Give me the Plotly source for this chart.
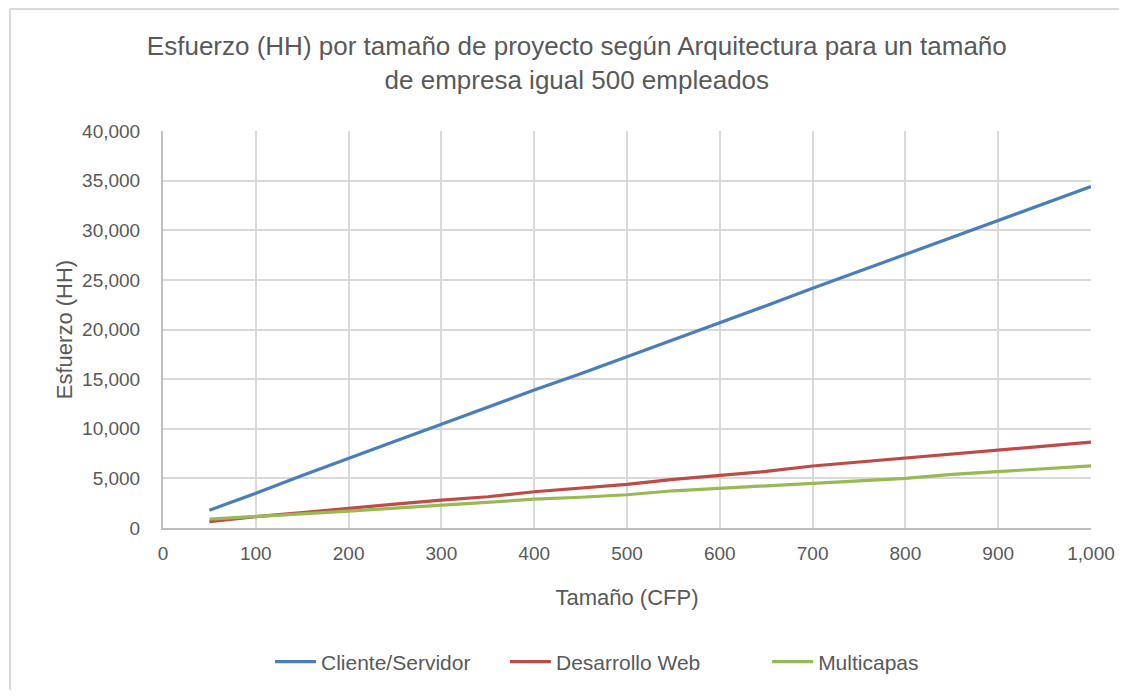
import plotly.graph_objects as go

tamano = [50, 100, 150, 200, 250, 300, 350, 400, 450, 500,
          550, 600, 650, 700, 750, 800, 850, 900, 950, 1000]
cliente_servidor = [1800, 3500, 5300, 7050, 8750, 10450, 12200, 13900, 15550, 17250,
                    18950, 20650, 22400, 24150, 25850, 27550, 29250, 30950, 32700, 34400]
desarrollo_web = [650, 1150, 1550, 2000, 2400, 2800, 3150, 3650, 4000, 4400,
                  4900, 5300, 5700, 6250, 6650, 7000, 7400, 7850, 8250, 8650]
multicapas = [900, 1150, 1450, 1700, 2000, 2300, 2600, 2900, 3100, 3350,
              3750, 4000, 4250, 4500, 4750, 5000, 5400, 5700, 5950, 6250]

series_names = ["Cliente/Servidor", "Desarrollo Web", "Multicapas"]
series_colors = ["#4a7ebb", "#be4b48", "#98b954"]

FONT = "Liberation Sans, Arial, sans-serif"
TXT = "#595959"
GRID = "#d9d9d9"

legend_ids = ["legend", "legend2", "legend3"]
legend_x = [0.1153, 0.3685, 0.651]

fig = go.Figure()
for name, vals, col, lg in zip(series_names, [cliente_servidor, desarrollo_web, multicapas],
                               series_colors, legend_ids):
    fig.add_trace(go.Scatter(x=tamano, y=vals, mode="lines", name=name, legend=lg,
                             line=dict(color=col, width=3.2)))

leg_common = dict(orientation="h", xanchor="left", y=-0.3375, yanchor="middle",
                  font=dict(size=21, family=FONT, color=TXT), bgcolor="rgba(0,0,0,0)",
                  borderwidth=0, itemwidth=41)

fig.update_layout(
    width=1111, height=682,
    margin=dict(l=155, r=28, t=123, b=162, autoexpand=False),
    paper_bgcolor="white", plot_bgcolor="white",
    font=dict(family=FONT, color=TXT, size=20),
    title=dict(text="Esfuerzo (HH) por tamaño de proyecto según Arquitectura para un tamaño<br>de empresa igual 500 empleados",
               x=0.512, xanchor="center", xref="container",
               y=0.931, yanchor="top", yref="container",
               font=dict(size=26, family=FONT, color=TXT)),
    legend=dict(x=legend_x[0], **leg_common),
    legend2=dict(x=legend_x[1], **leg_common),
    legend3=dict(x=legend_x[2], **leg_common),
    showlegend=True,
)
fig.update_xaxes(range=[0, 1000], dtick=100, tickformat=",", showgrid=True,
                 gridcolor=GRID, gridwidth=2, showline=True, linecolor="#bfbfbf", linewidth=2,
                 zeroline=False, ticks="", ticklabelstandoff=7,
                 title=dict(text="Tamaño (CFP)", standoff=27, font=dict(size=22)),
                 tickfont=dict(size=19))
fig.update_yaxes(range=[0, 40000], dtick=5000, tickformat=",", showgrid=True,
                 gridcolor=GRID, gridwidth=2, showline=True, linecolor="#bfbfbf", linewidth=2,
                 zeroline=False, ticks="", ticklabelstandoff=17,
                 title=dict(text="Esfuerzo (HH)", standoff=3, font=dict(size=22)),
                 tickfont=dict(size=19))

# outer chart border (left and top edges visible)
fig.add_shape(type="line", xref="paper", yref="paper", x0=-0.1649, x1=-0.1649, y0=-0.45, y1=1.307,
              line=dict(color=GRID, width=2))
fig.add_shape(type="line", xref="paper", yref="paper", x0=-0.1649, x1=1.05, y0=1.307, y1=1.307,
              line=dict(color=GRID, width=2))

fig.write_html("out.html")
